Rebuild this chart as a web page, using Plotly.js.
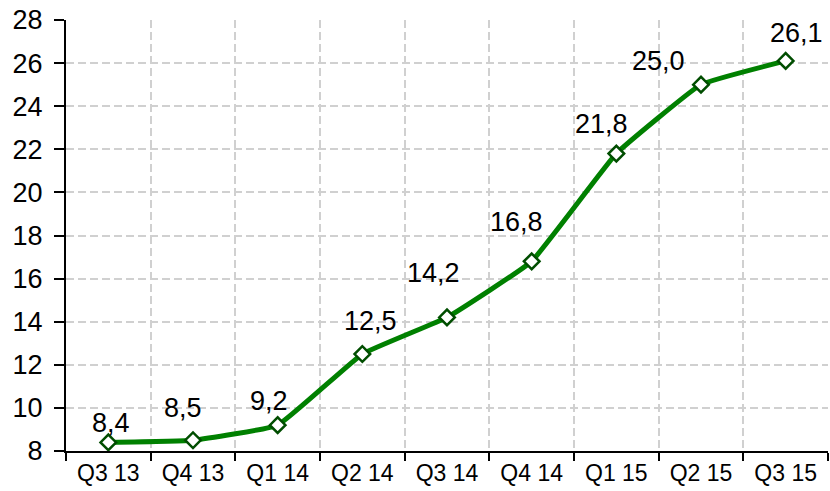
<!DOCTYPE html>
<html>
<head>
<meta charset="utf-8">
<script src="https://cdn.plot.ly/plotly-3.0.1.min.js"></script>
<style>html,body{margin:0;padding:0;background:#fff}#chart{width:830px;height:491px}</style>
</head>
<body>
<div id="chart"></div>
<script>
// Data
const quarters = ["Q3 13","Q4 13","Q1 14","Q2 14","Q3 14","Q4 14","Q1 15","Q2 15","Q3 15"];
const values = [8.4, 8.5, 9.2, 12.5, 14.2, 16.8, 21.8, 25.0, 26.1];
const yTicks = [8, 10, 12, 14, 16, 18, 20, 22, 24, 26, 28];

// Label placement (styling only)
const labelShiftX = [3, -10, -9, 8, -14, -15, -15, -43, 11];
const labelShiftY = [19, 32, 24, 33, 44, 39, 30, 24, 28];

const fmt = v => v.toFixed(1).replace('.', ',');
const font = "Liberation Sans, Arial, sans-serif";

const trace = {
  x: quarters, y: values, type: 'scatter', mode: 'lines+markers',
  line: {color: '#008000', width: 5, shape: 'spline', smoothing: 0.3},
  marker: {symbol: 'diamond', size: 12, color: '#ffffff', line: {color: '#004d00', width: 2.5}},
  hoverinfo: 'skip'
};

const annotations = quarters.map((q, i) => ({
  x: q, y: values[i], xref: 'x', yref: 'y', text: fmt(values[i]),
  showarrow: false, xanchor: 'center', yanchor: 'middle',
  xshift: labelShiftX[i], yshift: labelShiftY[i],
  font: {family: font, size: 27, color: '#000'}
}));

const grid = {gridcolor: '#d0d0d0', gridwidth: 2, griddash: '8px,4px'};

const layout = {
  width: 830, height: 491,
  margin: {l: 66, r: 2, t: 20, b: 40},
  paper_bgcolor: '#fff', plot_bgcolor: '#fff',
  showlegend: false,
  font: {family: font, color: '#000'},
  xaxis: Object.assign({
    type: 'category', tickson: 'boundaries', range: [-0.5, 8.5],
    showgrid: true, showline: true, linecolor: '#000', linewidth: 2,
    ticks: 'outside', ticklen: 8, tickwidth: 2, tickcolor: '#000',
    tickfont: {family: font, size: 23, color: '#000'}, zeroline: false
  }, grid),
  yaxis: Object.assign({
    range: [8, 28], tickvals: yTicks, ticktext: yTicks.map(String),
    showgrid: true, showline: true, linecolor: '#000', linewidth: 2,
    ticks: 'outside', ticklen: 10, tickwidth: 2, tickcolor: '#000',
    ticklabelstandoff: 6,
    tickfont: {family: font, size: 27, color: '#000'}, zeroline: false
  }, grid),
  annotations: annotations
};

Plotly.newPlot('chart', [trace], layout, {displayModeBar: false, staticPlot: true});
</script>
</body>
</html>
